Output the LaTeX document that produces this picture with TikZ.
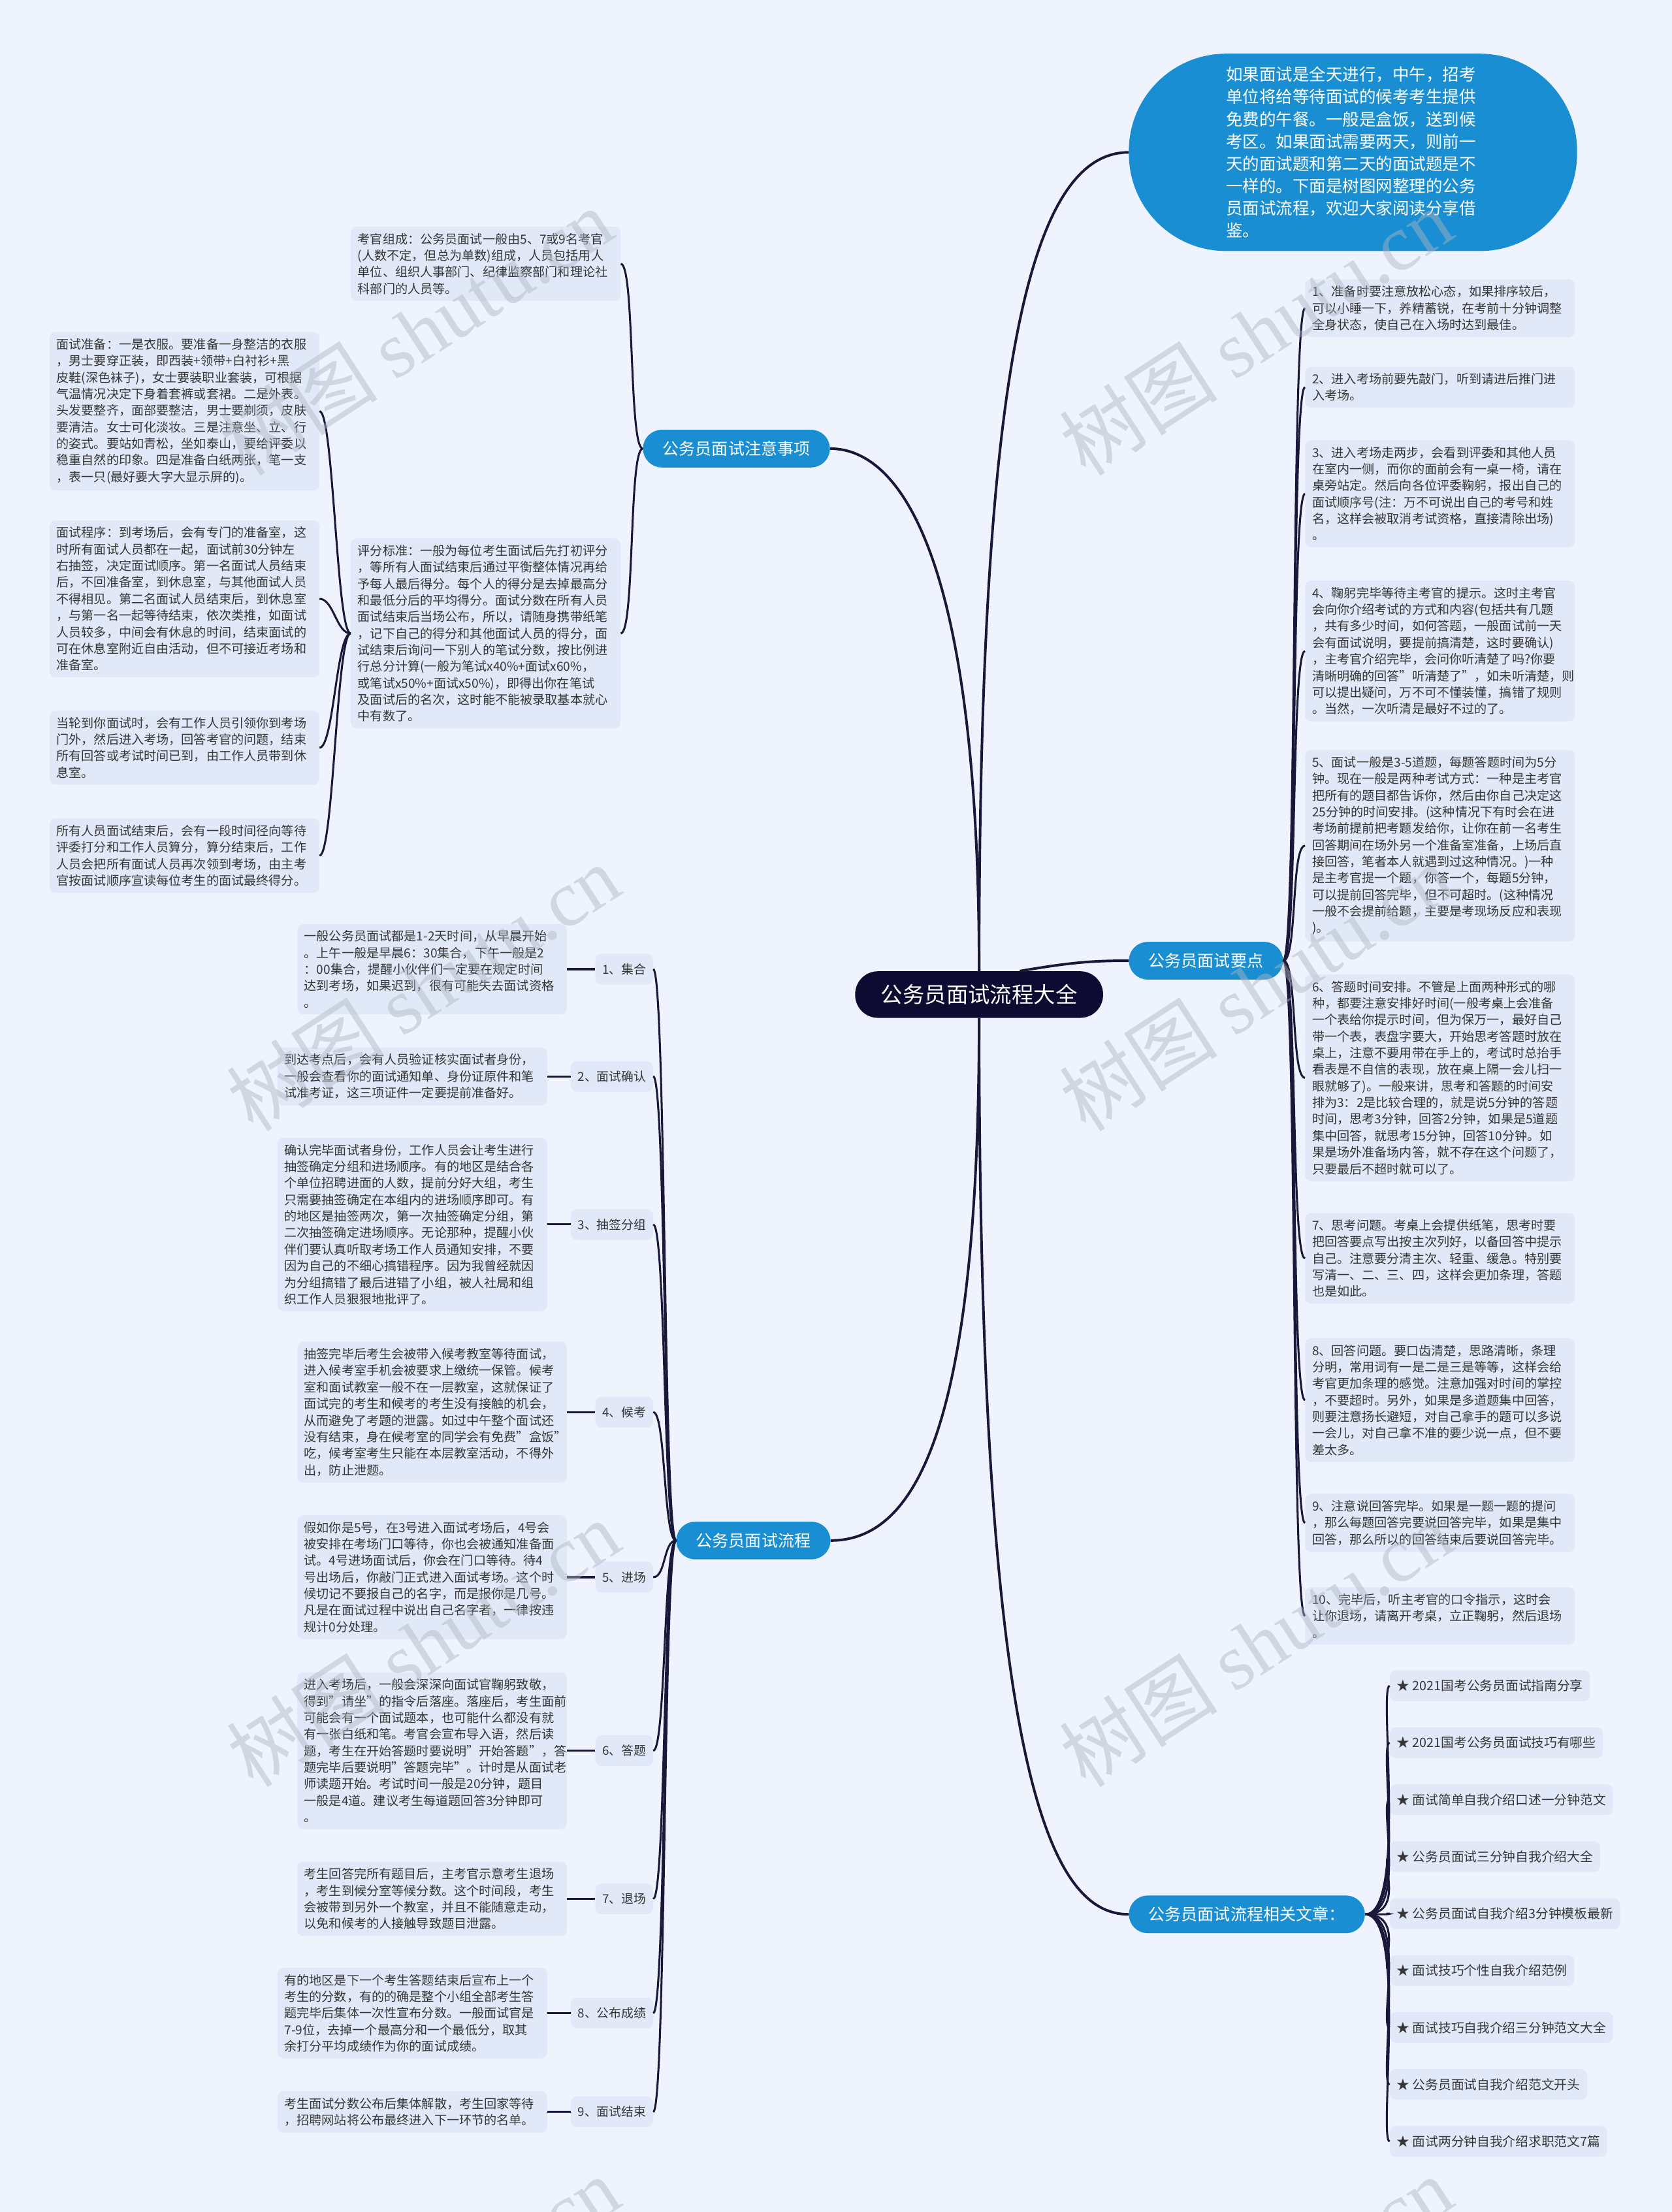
\documentclass[tikz,border=0pt]{standalone}
\usepackage{fontspec}
\setmainfont{Noto Sans CJK SC}
\newfontfamily\wmserif{Liberation Serif}
\usepackage{xcolor}
\usepackage{tikz}
\definecolor{pagebg}{HTML}{EEF3FD}
\definecolor{leafbg}{HTML}{E1E9F9}
\definecolor{bluex}{HTML}{1A8ED2}
\definecolor{navyx}{HTML}{0E0B33}
\definecolor{linex}{HTML}{1A1838}
\definecolor{textx}{HTML}{363636}
\definecolor{wmark}{HTML}{AEB4C0}
\tikzset{
  lk/.style={linex,line width=2pt},
  lkm/.style={linex,line width=2.6pt},
  leaf/.style={fill=leafbg,rounded corners=6pt,align=left,text=textx,text width=258pt,
    inner xsep=7pt,inner ysep=6.5pt,font=\fontsize{12.6}{16.7}\selectfont},
  rel/.style={fill=leafbg,rounded corners=6pt,text=textx,anchor=west,inner xsep=7pt,
    minimum height=31pt,font=\fontsize{13}{16}\selectfont},
  stage/.style={fill=leafbg,rounded corners=6pt,text=textx,anchor=east,inner xsep=7pt,
    minimum height=31pt,font=\fontsize{12.4}{16}\selectfont},
  brn/.style={fill=bluex,text=white,rounded corners=19pt,minimum height=38pt,inner xsep=20pt,
    font=\fontsize{16.5}{20}\selectfont},
  root/.style={fill=navyx,text=white,rounded corners=23pt,minimum width=250pt,minimum height=47pt,
    font=\fontsize{22}{26}\selectfont},
  bubble/.style={fill=bluex,text=white,rounded corners=98pt,minimum width=452pt,minimum height=199pt,
    text width=256pt,align=left,font=\fontsize{16.8}{22.5}\selectfont},
  wm/.style={rotate=33,text=wmark,opacity=0.45,font=\fontsize{80}{80}\selectfont}
}
\begin{document}
\begin{tikzpicture}[x=0.05cm,y=-0.05cm]
\fill[pagebg] (0,0) rectangle (1185,1568);
\useasboundingbox (0,0) rectangle (1185,1568);

\node[root] (ct) at (694,705) {公务员面试流程大全};
\node[bubble] (tb) at (959,108) {如果面试是全天进行，中午，招考\\单位将给等待面试的候考考生提供\\免费的午餐。一般是盒饭，送到候\\考区。如果面试需要两天，则前一\\天的面试题和第二天的面试题是不\\一样的。下面是树图网整理的公务\\员面试流程，欢迎大家阅读分享借\\鉴。};
\node[brn] (zy) at (522,318) {公务员面试注意事项};
\node[brn,anchor=west] (yd) at (800,681) {公务员面试要点};
\node[brn] (lc) at (534,1092) {公务员面试流程};
\node[brn,anchor=west] (xg) at (800,1357) {公务员面试流程相关文章：};

\node[leaf,anchor=west] (r1) at (925,218.5) {1、准备时要注意放松心态，如果排序较后，\\可以小睡一下，养精蓄锐，在考前十分钟调整\\全身状态，使自己在入场时达到最佳。};
\node[leaf,anchor=west] (r2) at (925,274.5) {2、进入考场前要先敲门，听到请进后推门进\\入考场。};
\node[leaf,anchor=west] (r3) at (925,350) {3、进入考场走两步，会看到评委和其他人员\\在室内一侧，而你的面前会有一桌一椅，请在\\桌旁站定。然后向各位评委鞠躬，报出自己的\\面试顺序号(注：万不可说出自己的考号和姓\\名，这样会被取消考试资格，直接清除出场)\\。};
\node[leaf,anchor=west] (r4) at (925,461.5) {4、鞠躬完毕等待主考官的提示。这时主考官\\会向你介绍考试的方式和内容(包括共有几题\\，共有多少时间，如何答题，一般面试前一天\\会有面试说明，要提前搞清楚，这时要确认)\\，主考官介绍完毕，会问你听清楚了吗?你要\\清晰明确的回答"听清楚了"，如未听清楚，则\\可以提出疑问，万不可不懂装懂，搞错了规则\\。当然，一次听清是最好不过的了。};
\node[leaf,anchor=west] (r5) at (925,599.5) {5、面试一般是3-5道题，每题答题时间为5分\\钟。现在一般是两种考试方式：一种是主考官\\把所有的题目都告诉你，然后由你自己决定这\\25分钟的时间安排。(这种情况下有时会在进\\考场前提前把考题发给你，让你在前一名考生\\回答期间在场外另一个准备室准备，上场后直\\接回答，笔者本人就遇到过这种情况。)一种\\是主考官提一个题，你答一个，每题5分钟，\\可以提前回答完毕，但不可超时。(这种情况\\一般不会提前给题，主要是考现场反应和表现\\)。};
\node[leaf,anchor=west] (r6) at (925,764) {6、答题时间安排。不管是上面两种形式的哪\\种，都要注意安排好时间(一般考桌上会准备\\一个表给你提示时间，但为保万一，最好自己\\带一个表，表盘字要大，开始思考答题时放在\\桌上，注意不要用带在手上的，考试时总抬手\\看表是不自信的表现，放在桌上隔一会儿扫一\\眼就够了)。一般来讲，思考和答题的时间安\\排为3：2是比较合理的，就是说5分钟的答题\\时间，思考3分钟，回答2分钟，如果是5道题\\集中回答，就思考15分钟，回答10分钟。如\\果是场外准备场内答，就不存在这个问题了，\\只要最后不超时就可以了。};
\node[leaf,anchor=west] (r7) at (925,892) {7、思考问题。考桌上会提供纸笔，思考时要\\把回答要点写出按主次列好，以备回答中提示\\自己。注意要分清主次、轻重、缓急。特别要\\写清一、二、三、四，这样会更加条理，答题\\也是如此。};
\node[leaf,anchor=west] (r8) at (925,992.5) {8、回答问题。要口齿清楚，思路清晰，条理\\分明，常用词有一是二是三是等等，这样会给\\考官更加条理的感觉。注意加强对时间的掌控\\，不要超时。另外，如果是多道题集中回答，\\则要注意扬长避短，对自己拿手的题可以多说\\一会儿，对自己拿不准的要少说一点，但不要\\差太多。};
\node[leaf,anchor=west] (r9) at (925,1079.5) {9、注意说回答完毕。如果是一题一题的提问\\，那么每题回答完要说回答完毕，如果是集中\\回答，那么所以的回答结束后要说回答完毕。};
\node[leaf,anchor=west] (r10) at (925,1145.5) {10、完毕后，听主考官的口令指示，这时会\\让你退场，请离开考桌，立正鞠躬，然后退场\\。};

\node[leaf,anchor=east] (k) at (440,187) {考官组成：公务员面试一般由5、7或9名考官\\(人数不定，但总为单数)组成，人员包括用人\\单位、组织人事部门、纪律监察部门和理论社\\科部门的人员等。};
\node[leaf,anchor=east] (s) at (440,449) {评分标准：一般为每位考生面试后先打初评分\\，等所有人面试结束后通过平衡整体情况再给\\予每人最后得分。每个人的得分是去掉最高分\\和最低分后的平均得分。面试分数在所有人员\\面试结束后当场公布，所以，请随身携带纸笔\\，记下自己的得分和其他面试人员的得分，面\\试结束后询问一下别人的笔试分数，按比例进\\行总分计算(一般为笔试x40\%+面试x60\%，\\或笔试x50\%+面试x50\%)，即得出你在笔试\\及面试后的名次，这时能不能被录取基本就心\\中有数了。};

\node[leaf,anchor=west] (f1) at (35,291.5) {面试准备：一是衣服。要准备一身整洁的衣服\\，男士要穿正装，即西装+领带+白衬衫+黑\\皮鞋(深色袜子)，女士要装职业套装，可根据\\气温情况决定下身着套裤或套裙。二是外表。\\头发要整齐，面部要整洁，男士要剃须，皮肤\\要清洁。女士可化淡妆。三是注意坐、立、行\\的姿式。要站如青松，坐如泰山，要给评委以\\稳重自然的印象。四是准备白纸两张，笔一支\\，表一只(最好要大字大显示屏的)。};
\node[leaf,anchor=west] (f2) at (35,424.5) {面试程序：到考场后，会有专门的准备室，这\\时所有面试人员都在一起，面试前30分钟左\\右抽签，决定面试顺序。第一名面试人员结束\\后，不回准备室，到休息室，与其他面试人员\\不得相见。第二名面试人员结束后，到休息室\\，与第一名一起等待结束，依次类推，如面试\\人员较多，中间会有休息的时间，结束面试的\\可在休息室附近自由活动，但不可接近考场和\\准备室。};
\node[leaf,anchor=west] (f3) at (35,530) {当轮到你面试时，会有工作人员引领你到考场\\门外，然后进入考场，回答考官的问题，结束\\所有回答或考试时间已到，由工作人员带到休\\息室。};
\node[leaf,anchor=west] (f4) at (35,606.5) {所有人员面试结束后，会有一段时间径向等待\\评委打分和工作人员算分，算分结束后，工作\\人员会把所有面试人员再次领到考场，由主考\\官按面试顺序宣读每位考生的面试最终得分。};

\foreach \t/\yy [count=\i] in {1、集合/687,2、面试确认/763,3、抽签分组/868,4、候考/1001,5、进场/1118,6、答题/1241,7、退场/1346,8、公布成绩/1427,9、面试结束/1497}
  \node[stage] (st\i) at (463,\yy) {\t};

\node[leaf,anchor=east] (p1) at (402,687) {一般公务员面试都是1-2天时间，从早晨开始\\。上午一般是早晨6：30集合，下午一般是2\\：00集合，提醒小伙伴们一定要在规定时间\\达到考场，如果迟到，很有可能失去面试资格\\。};
\node[leaf,anchor=east] (p2) at (388,763) {到达考点后，会有人员验证核实面试者身份，\\一般会查看你的面试通知单、身份证原件和笔\\试准考证，这三项证件一定要提前准备好。};
\node[leaf,anchor=east] (p3) at (388,868) {确认完毕面试者身份，工作人员会让考生进行\\抽签确定分组和进场顺序。有的地区是结合各\\个单位招聘进面的人数，提前分好大组，考生\\只需要抽签确定在本组内的进场顺序即可。有\\的地区是抽签两次，第一次抽签确定分组，第\\二次抽签确定进场顺序。无论那种，提醒小伙\\伴们要认真听取考场工作人员通知安排，不要\\因为自己的不细心搞错程序。因为我曾经就因\\为分组搞错了最后进错了小组，被人社局和组\\织工作人员狠狠地批评了。};
\node[leaf,anchor=east] (p4) at (402,1001) {抽签完毕后考生会被带入候考教室等待面试，\\进入候考室手机会被要求上缴统一保管。候考\\室和面试教室一般不在一层教室，这就保证了\\面试完的考生和候考的考生没有接触的机会，\\从而避免了考题的泄露。如过中午整个面试还\\没有结束，身在候考室的同学会有免费"盒饭"\\吃，候考室考生只能在本层教室活动，不得外\\出，防止泄题。};
\node[leaf,anchor=east] (p5) at (402,1118) {假如你是5号，在3号进入面试考场后，4号会\\被安排在考场门口等待，你也会被通知准备面\\试。4号进场面试后，你会在门口等待。待4\\号出场后，你敲门正式进入面试考场。这个时\\候切记不要报自己的名字，而是报你是几号。\\凡是在面试过程中说出自己名字者，一律按违\\规计0分处理。};
\node[leaf,anchor=east] (p6) at (402,1241) {进入考场后，一般会深深向面试官鞠躬致敬，\\得到"请坐"的指令后落座。落座后，考生面前\\可能会有一个面试题本，也可能什么都没有就\\有一张白纸和笔。考官会宣布导入语，然后读\\题，考生在开始答题时要说明"开始答题"，答\\题完毕后要说明"答题完毕"。计时是从面试老\\师读题开始。考试时间一般是20分钟，题目\\一般是4道。建议考生每道题回答3分钟即可\\。};
\node[leaf,anchor=east] (p7) at (402,1346) {考生回答完所有题目后，主考官示意考生退场\\，考生到候分室等候分数。这个时间段，考生\\会被带到另外一个教室，并且不能随意走动，\\以免和候考的人接触导致题目泄露。};
\node[leaf,anchor=east] (p8) at (388,1427) {有的地区是下一个考生答题结束后宣布上一个\\考生的分数，有的的确是整个小组全部考生答\\题完毕后集体一次性宣布分数。一般面试官是\\7-9位，去掉一个最高分和一个最低分，取其\\余打分平均成绩作为你的面试成绩。};
\node[leaf,anchor=east] (p9) at (388,1497) {考生面试分数公布后集体解散，考生回家等待\\，招聘网站将公布最终进入下一环节的名单。};

\foreach \t [count=\i] in {2021国考公务员面试指南分享,2021国考公务员面试技巧有哪些,面试简单自我介绍口述一分钟范文,公务员面试三分钟自我介绍大全,公务员面试自我介绍3分钟模板最新,面试技巧个性自我介绍范例,面试技巧自我介绍三分钟范文大全,公务员面试自我介绍范文开头,面试两分钟自我介绍求职范文7篇}
  \node[rel] (a\i) at (985,{1154.6+40.375*\i}) {★ \t};

\draw[lkm] (ct.north) .. controls (694,400) and (640,318) .. (zy.east);
\draw[lkm] (ct.north) .. controls (694,260) and (730,108) .. (tb.west);
\draw[lkm] (ct.30) .. controls (760,682) and (775,681) .. (yd.west);
\draw[lkm] (ct.south) .. controls (694,1010) and (650,1092) .. (lc.east);
\draw[lkm] (ct.south) .. controls (694,1260) and (745,1357) .. (xg.west);

\foreach \i in {1,...,10}
  \draw[lk] (yd.east) .. controls +(10,0) and +(-10,0) .. (r\i.west);
\draw[lk] (zy.west) .. controls +(-10,0) and +(10,0) .. (k.east);
\draw[lk] (zy.west) .. controls +(-10,0) and +(10,0) .. (s.east);
\foreach \n in {f1,f2,f3,f4}
  \draw[lk] (s.west) .. controls +(-10,0) and +(10,0) .. (\n.east);
\foreach \i in {1,...,9} {
  \draw[lk] (lc.west) .. controls +(-9,0) and +(9,0) .. (st\i.east);
  \draw[lk] (p\i.east) -- (st\i.west);
}
\foreach \i in {1,...,9}
  \draw[lk] (xg.east) .. controls +(30,0) and +(-8,0) .. (a\i.west);

\foreach \wx/\wy [count=\i] in {295/235,890/235,300/700,890/700,300/1165,890/1165,300/1630,890/1630}
  \node[wm] (w\i) at (\wx,\wy) {树图 {\wmserif shutu.cn}};
\end{tikzpicture}
\end{document}
